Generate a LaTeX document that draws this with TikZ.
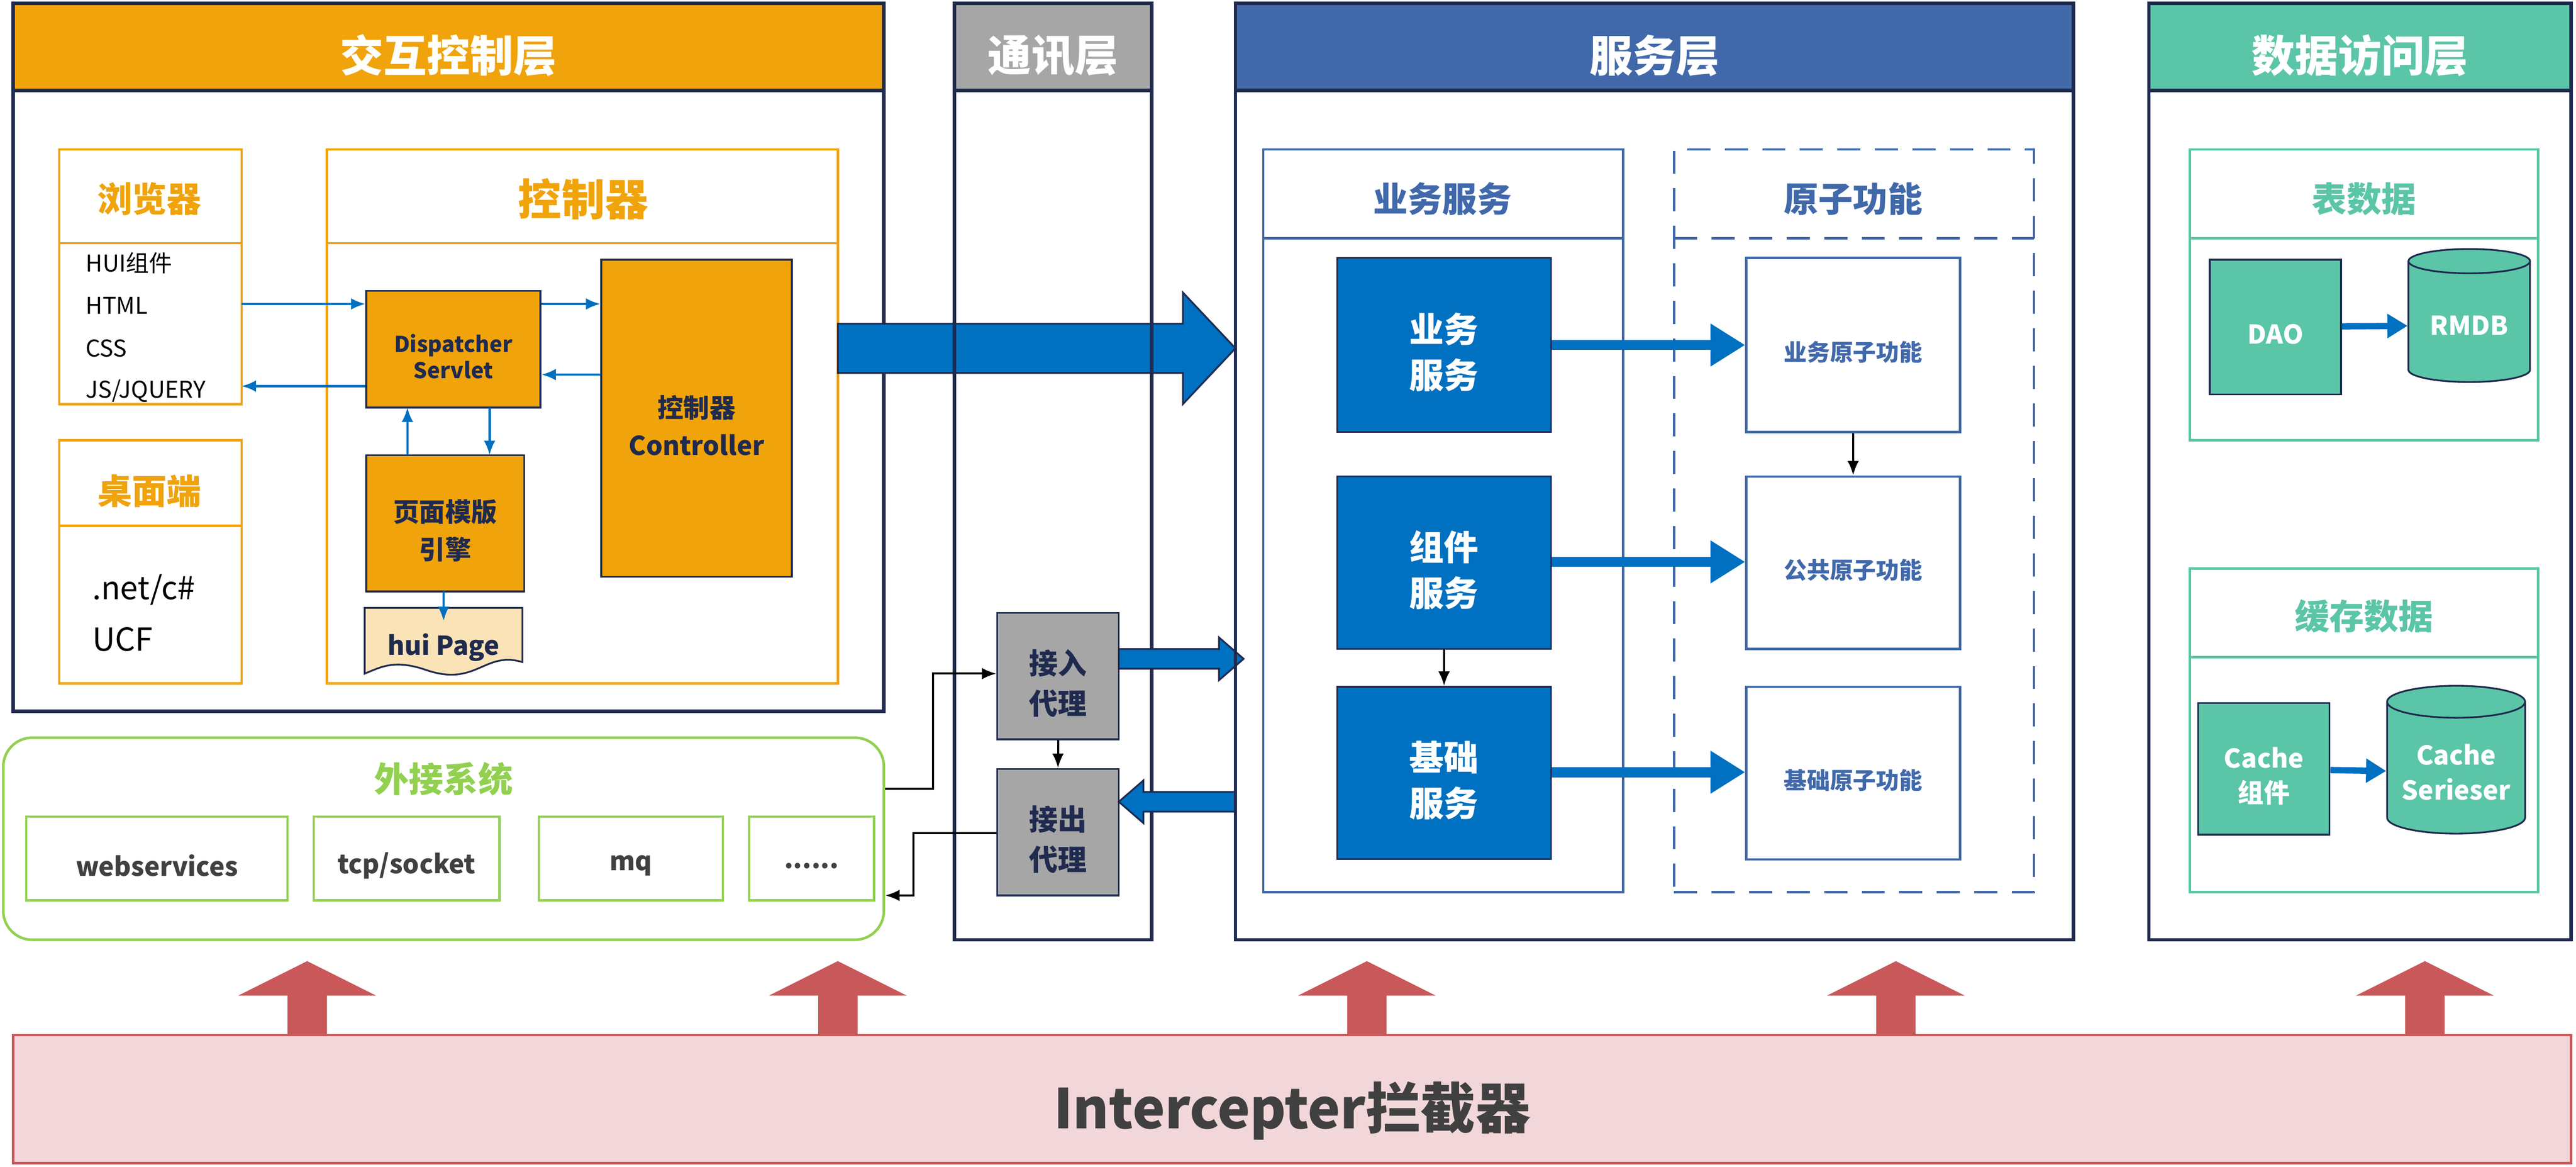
\documentclass[tikz,border=0pt]{standalone}
\usepackage{fontspec}
\setmainfont{Noto Sans CJK SC}
\usetikzlibrary{fit,shapes.geometric,arrows.meta}
\definecolor{org}{HTML}{F0A30A}
\definecolor{lorg}{HTML}{FBE3B8}
\definecolor{nav}{HTML}{1F2A4E}
\definecolor{sblue}{HTML}{4169AA}
\definecolor{bblue}{HTML}{0070C0}
\definecolor{gry}{HTML}{A6A6A6}
\definecolor{teal}{HTML}{5BC5A7}
\definecolor{grn}{HTML}{92D050}
\definecolor{pinkf}{HTML}{F2D7DA}
\definecolor{redd}{HTML}{C9585A}
\definecolor{txt}{HTML}{404040}
\tikzset{
 R/.style={fit={#1},inner sep=0pt},
 outer/.style={draw=nav,line width=1.2pt},
 head/.style={text=white,font=\fontsize{15}{15}\selectfont\bfseries},
 ob/.style={draw=org,line width=0.8pt},
 of/.style={fill=org,draw=nav,line width=0.6pt,font=\fontsize{7.5}{9}\selectfont\bfseries,text=nav,align=center},
 bf/.style={fill=bblue,draw=nav,line width=0.6pt,text=white,font=\fontsize{12}{16}\selectfont\bfseries,align=center},
 ab/.style={draw=sblue,line width=0.8pt,fill=white,text=sblue,font=\fontsize{8}{10}\selectfont\bfseries},
 gf/.style={fill=gry,draw=nav,line width=0.6pt,font=\fontsize{10}{14}\selectfont\bfseries,text=nav,align=center},
 tf/.style={fill=teal,draw=nav,line width=0.6pt,text=white,font=\fontsize{9}{12}\selectfont\bfseries,align=center},
 eb/.style={draw=grn,line width=0.8pt,font=\fontsize{9}{10}\selectfont\bfseries,text=txt},
 sa/.style={-{Latex[length=5pt,width=4pt]},draw=bblue,line width=0.8pt},
 ka/.style={-{Latex[length=5pt,width=4pt]},draw=black,line width=0.7pt},
 ba/.style={-{Triangle[length=12pt,width=14pt]},draw=bblue,line width=3.5pt},
 ttl/.style={font=\fontsize{12}{12}\selectfont\bfseries},
 sm/.style={font=\fontsize{8}{10}\selectfont,text=black,anchor=west},
}
% box with text nudged down
\newcommand\bx[5][2.5pt]{\node[R={#4},#3] (#2) {};
 \node[#3,draw=none,fill=none,yshift=-#1,inner sep=0pt] at (#2.center) {#5};}
\begin{document}
\begin{tikzpicture}[x=0.02cm,y=-0.02cm]
\useasboundingbox (0,0) rectangle (1568,710);
% ===== layer 1
\node[R={(8,2)(538,433)},outer] (L1) {};
\bx[3pt]{H1}{fill=org,outer,head}{(8,2)(538,55)}{交互控制层}
\node[R={(36,91)(147,246)},ob] (brw) {};
\node[ttl,text=org] at (91,121) {浏览器};
\draw[org,line width=0.8pt] (36,148) -- (147,148);
\node[sm] at (46,160) {HUI组件};
\node[sm] at (46,186) {HTML};
\node[sm] at (46,212) {CSS};
\node[sm] at (46,238) {JS/JQUERY};
\node[R={(36,268)(147,416)},ob] (dsk) {};
\node[ttl,text=org] at (91,299) {桌面端};
\draw[org,line width=0.8pt] (36,320) -- (147,320);
\node[sm,font=\fontsize{11}{12}\selectfont] at (50,359) {.net/c\#};
\node[sm,font=\fontsize{11}{12}\selectfont] at (50,389) {UCF};
\node[R={(199,91)(510,416)},ob] (ctl) {};
\node[font=\fontsize{15}{15}\selectfont\bfseries,text=org] at (355,121) {控制器};
\draw[org,line width=0.8pt] (199,148) -- (510,148);
\bx{disp}{of}{(223,177)(329,248)}{Dispatcher\\Servlet}
\bx{ctr}{of,font=\fontsize{9}{13}\selectfont\bfseries}{(366,158)(482,351)}{控制器\\Controller}
\bx{tpl}{of,font=\fontsize{9}{13}\selectfont\bfseries}{(223,277)(319,360)}{页面模版\\引擎}
\fill[lorg,draw=nav,line width=0.6pt] (222,370) -- (318,370) -- (318,403) .. controls (295,396) and (290,418) .. (260,408) .. controls (240,401) and (232,406) .. (222,410) -- cycle;
\node[font=\fontsize{9}{10}\selectfont\bfseries,text=nav] (hui) at (270,394) {hui Page};
\draw[sa] (147,185) -- (disp.west|-0,185);
\draw[sa] (disp.west|-0,235) -- (147,235);
\draw[sa] (disp.east|-0,185) -- (ctr.west|-0,185);
\draw[sa] (ctr.west|-0,228) -- (disp.east|-0,228);
\draw[sa] (248,277) -- (248,248);
\draw[sa] (298,248) -- (298,277);
\draw[sa] (270,360) -- (270,378);
% big arrow
\fill[bblue,draw=nav,line width=0.6pt] (510,197) -- (720,197) -- (720,178) -- (752,212) -- (720,246) -- (720,227) -- (510,227) -- cycle;
% ===== comm
\node[R={(581,2)(701,572)},outer] (L2) {};
\bx[3pt]{H2}{fill=gry,outer,head}{(581,2)(701,55)}{通讯层}
\bx{in}{gf}{(607,373)(681,450)}{接入\\代理}
\bx{out}{gf}{(607,468)(681,545)}{接出\\代理}
\draw[ka] (in) -- (out);
\fill[bblue,draw=nav,line width=0.6pt] (681,395) -- (742,395) -- (742,388) -- (757,401) -- (742,414) -- (742,407) -- (681,407) -- cycle;
\fill[bblue,draw=nav,line width=0.6pt] (752,482) -- (696,482) -- (696,475) -- (681,488) -- (696,501) -- (696,494) -- (752,494) -- cycle;
% ===== external
\node[R={(2,449)(538,572)},draw=grn,line width=0.9pt,rounded corners=10pt] (ext) {};
\node[ttl,text=grn] at (270,474) {外接系统};
\bx{e1}{eb}{(16,497)(175,548)}{webservices}
\bx{e2}{eb}{(191,497)(304,548)}{tcp/socket}
\bx{e3}{eb}{(328,497)(440,548)}{mq}
\bx{e4}{eb}{(456,497)(532,548)}{......}
\draw[ka] (ext.east|-0,480) -- (568,480) -- (568,410) -- (in.west|-0,410);
\draw[ka] (out.west|-0,507) -- (556,507) -- (556,545) -- (ext.east|-0,545);
% ===== service
\node[R={(752,2)(1262,572)},outer] (L3) {};
\bx[3pt]{H3}{fill=sblue,outer,head}{(752,2)(1262,55)}{服务层}
\node[R={(769,91)(988,543)},draw=sblue,line width=0.8pt] (bs) {};
\node[ttl,text=sblue] at (878,121) {业务服务};
\draw[sblue,line width=0.8pt] (769,145) -- (988,145);
\node[R={(1019,91)(1238,543)},draw=sblue,line width=0.8pt,dash pattern=on 8pt off 5pt] (at) {};
\node[ttl,text=sblue] at (1128,121) {原子功能};
\draw[sblue,line width=0.8pt,dash pattern=on 8pt off 5pt] (1019,145) -- (1238,145);
\bx{s1}{bf}{(814,157)(944,263)}{业务\\服务}
\bx{s2}{bf}{(814,290)(944,395)}{组件\\服务}
\bx{s3}{bf}{(814,418)(944,523)}{基础\\服务}
\bx{a1}{ab}{(1063,157)(1193,263)}{业务原子功能}
\bx{a2}{ab}{(1063,290)(1193,395)}{公共原子功能}
\bx{a3}{ab}{(1063,418)(1193,523)}{基础原子功能}
\draw[ba] (s1.east|-0,210) -- (a1.west|-0,210);
\draw[ba] (s2.east|-0,342) -- (a2.west|-0,342);
\draw[ba] (s3.east|-0,470) -- (a3.west|-0,470);
\draw[ka] (a1) -- (a2);
\draw[ka] (s2) -- (s3);
% ===== data
\node[R={(1308,2)(1565,572)},outer] (L4) {};
\bx[3pt]{H4}{fill=teal,outer,head}{(1308,2)(1565,55)}{数据访问层}
\node[R={(1333,91)(1545,268)},draw=teal,line width=0.8pt] {};
\node[ttl,text=teal] at (1439,121) {表数据};
\draw[teal,line width=0.8pt] (1333,145) -- (1545,145);
\bx{dao}{tf}{(1345,158)(1425,240)}{DAO}
\node[cylinder,shape border rotate=90,aspect=0.25,minimum width=74*0.02cm,minimum height=81*0.02cm,fill=teal,draw=nav,line width=0.6pt,text=white,font=\fontsize{9}{12}\selectfont\bfseries] (rm) at (1503,198) {RMDB};
\draw[-{Triangle[length=7pt,width=8pt]},bblue,line width=2.2pt] (dao) -- (rm);
\node[R={(1333,346)(1545,543)},draw=teal,line width=0.8pt] {};
\node[ttl,text=teal] at (1439,375) {缓存数据};
\draw[teal,line width=0.8pt] (1333,400) -- (1545,400);
\bx{cc}{tf}{(1338,428)(1418,508)}{Cache\\组件}
\node[cylinder,shape border rotate=90,aspect=0.25,minimum width=84*0.02cm,minimum height=90*0.02cm,fill=teal,draw=nav,line width=0.6pt,text=white,font=\fontsize{9}{12}\selectfont\bfseries,align=center] (cs) at (1495,470) {Cache\\Serieser};
\draw[-{Triangle[length=7pt,width=8pt]},bblue,line width=2.2pt] (cc) -- (cs);
% ===== bottom
\bx[4pt]{ic}{fill=pinkf,draw=redd,line width=0.8pt,text=txt,font=\fontsize{19}{19}\selectfont\bfseries}{(8,630)(1565,708)}{Intercepter拦截器}
\foreach \x in {187,510,832,1154,1476}{
 \fill[redd] (\x-12,630) -- (\x-12,606) -- (\x-42,606) -- (\x,585) -- (\x+42,606) -- (\x+12,606) -- (\x+12,630) -- cycle;}
\end{tikzpicture}
\end{document}
